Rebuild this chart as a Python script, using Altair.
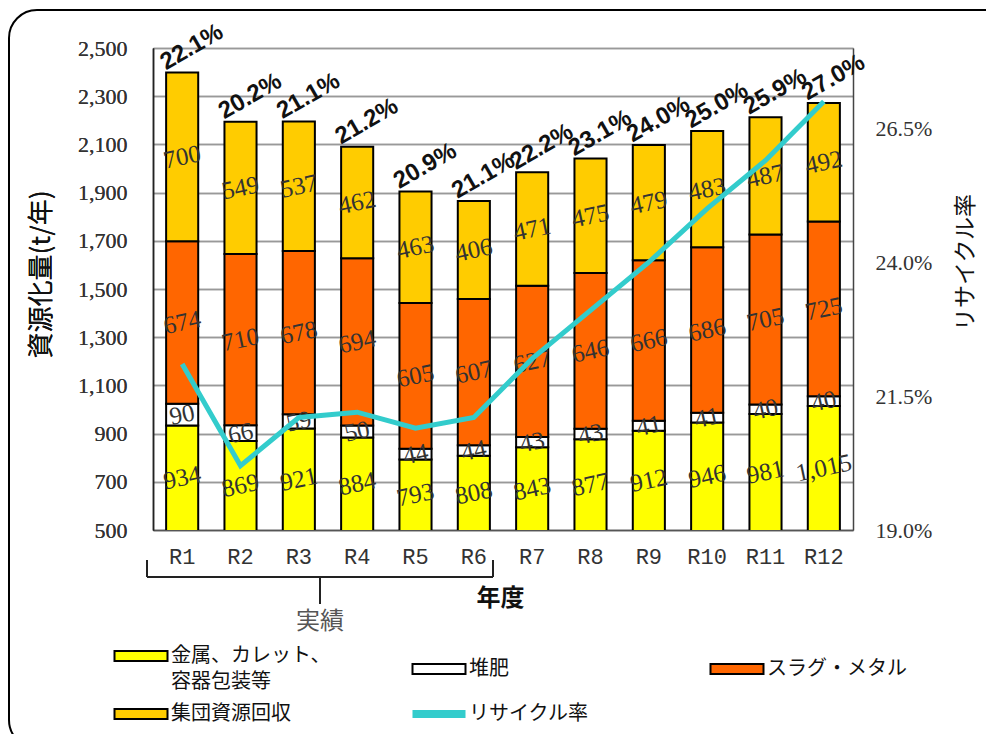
import altair as alt
import pandas as pd

years = ["R1", "R2", "R3", "R4", "R5", "R6", "R7", "R8", "R9", "R10", "R11", "R12"]
metal = [934, 869, 921, 884, 793, 808, 843, 877, 912, 946, 981, 1015]
compost = [90, 66, 59, 50, 44, 44, 43, 43, 41, 41, 40, 40]
slag = [674, 710, 678, 694, 605, 607, 627, 646, 666, 686, 705, 725]
group = [700, 549, 537, 462, 463, 406, 471, 475, 479, 483, 487, 492]
rate = [22.1, 20.2, 21.1, 21.2, 20.9, 21.1, 22.2, 23.1, 24.0, 25.0, 25.9, 27.0]

categories = ["金属、カレット、容器包装等", "堆肥", "スラグ・メタル", "集団資源回収"]
line_name = "リサイクル率"
colors = ["#FFFF00", "#FFFFFF", "#FF6600", "#FFCC00", "#33CCCC"]
left_ticks = [500, 700, 900, 1100, 1300, 1500, 1700, 1900, 2100, 2300, 2500]
right_ticks = [19.0, 21.5, 24.0, 26.5]
left_domain = [500, 2500]
right_domain = [19, 28]

series = [metal, compost, slag, group]
rows = []
for i, y in enumerate(years):
    for k, cat in enumerate(categories):
        rows.append({"year": y, "cat": cat, "order": k, "value": series[k][i]})
seg = pd.DataFrame(rows)
totals = [sum(s[i] for s in series) for i in range(len(years))]
yr = pd.DataFrame({"year": years, "rate": rate, "total": totals})
deco = pd.DataFrame({"a": [0]})

SERIF = "Liberation Serif"
JP = "Noto Sans CJK JP"

x_axis = alt.Axis(title="年度", labelAngle=0, labelFont="Liberation Mono", labelFontSize=22,
                  labelColor="#333", labelPadding=16, ticks=False, tickSize=0, domainColor="#555",
                  domainWidth=1.5, grid=False, titleFont=JP, titleFontSize=24, titleFontWeight="bold",
                  titleColor="#111", titleX=347, titleY=68, titleBaseline="middle", titleAlign="center")


def X():
    return alt.X("year:N", sort=years, axis=x_axis,
                 scale=alt.Scale(paddingInner=0.45, paddingOuter=0.225))


left_axis = alt.Axis(values=left_ticks, labelExpr="format(datum.value, ',')", grid=True,
                     gridColor="#999", gridWidth=1.5,
                     labelFont=SERIF, labelFontSize=22, labelColor="#333", labelPadding=26,
                     ticks=False, tickSize=0, domainColor="#222", domainWidth=1.5,
                     title="資源化量(t/年)", titleFont=JP, titleFontSize=26, titleFontWeight="normal",
                     titleColor="#111", titleAngle=270, titleX=-112, titleY=226,
                     titleAlign="center", titleBaseline="middle")
left_scale = alt.Scale(domain=left_domain, nice=False, zero=False)

right_axis = alt.Axis(orient="right", values=right_ticks, labelExpr="format(datum.value, '.1f') + '%'",
                      grid=False, labelFont=SERIF, labelFontSize=22, labelColor="#333", labelPadding=22,
                      ticks=False, tickSize=0, domainColor="#444", domainWidth=1.5,
                      title=line_name, titleFont=JP, titleFontSize=23, titleFontWeight="normal",
                      titleColor="#111", titleAngle=270, titleX=112, titleY=214,
                      titleAlign="center", titleBaseline="middle")

is_line = f"datum.label === '{line_name}'"
is_multi = f"datum.label === '{categories[0]}'"
rect_path = "M-1,-0.19H1V0.19H-1Z"

legend = alt.Legend(
    orient="none", legendX=-22, legendY=598, columns=3, direction="horizontal", title=None,
    gridAlign="all", columnPadding=65, rowPadding=6, symbolSize=2809,
    symbolType={"expr": f"{is_line} ? 'stroke' : '{rect_path}'"},
    symbolStrokeColor={"expr": f"{is_line} ? '{colors[4]}' : 'black'"},
    symbolStrokeWidth={"expr": f"{is_line} ? 8 : 2"},
    labelFont=JP, labelFontSize=20, labelColor="#111", labelOffset=20, labelLimit=400,
    labelExpr=f"{is_multi} ? ['金属、カレット、', '容器包装等'] : datum.label",
)
color_scale = alt.Scale(domain=categories + [line_name], range=colors)

stacked = alt.Chart(seg).transform_stack(
    stack="value", groupby=["year"], sort=[alt.SortField("order")], as_=["y0", "y1"]
)

frame = alt.Chart(deco).mark_rect(fill="transparent", stroke="black", strokeWidth=2,
                                  cornerRadius=28).encode(
    x=alt.value(-144), x2=alt.value(860), y=alt.value(-38), y2=alt.value(700))

bars = stacked.mark_bar(clip=True, stroke="black", strokeWidth=2).encode(
    x=X(), y=alt.Y("y0:Q", scale=left_scale, axis=left_axis), y2="y1:Q",
    color=alt.Color("cat:N", scale=color_scale, legend=legend))

seg_labels = stacked.transform_calculate(
    mid=f"(max(datum.y0, {left_domain[0]}) + datum.y1) / 2"
).mark_text(angle=348, font=SERIF, fontSize=25, color="#333").encode(
    x=X(), y=alt.Y("mid:Q", scale=left_scale, axis=left_axis),
    text=alt.Text("value:Q", format=","))

pct_labels = alt.Chart(yr).transform_calculate(
    lab="format(datum.rate, '.1f') + '%'"
).mark_text(angle=330, dx=21, dy=-17, font="Liberation Sans", fontSize=24, fontWeight="bold",
            color="#111").encode(
    x=X(), y=alt.Y("total:Q", scale=left_scale, axis=left_axis), text="lab:N")

br_h = alt.Chart(deco).mark_rule(color="#222", strokeWidth=2).encode(
    x=alt.value(-6), x2=alt.value(340), y=alt.value(529))
br_l = alt.Chart(deco).mark_rule(color="#222", strokeWidth=2).encode(
    x=alt.value(-6), y=alt.value(512), y2=alt.value(529))
br_r = alt.Chart(deco).mark_rule(color="#222", strokeWidth=2).encode(
    x=alt.value(340), y=alt.value(512), y2=alt.value(529))
br_c = alt.Chart(deco).mark_rule(color="#222", strokeWidth=2).encode(
    x=alt.value(167), y=alt.value(529), y2=alt.value(556))
jisseki = alt.Chart(deco).mark_text(text="実績", font=JP, fontSize=24, color="#555",
                                    baseline="middle", align="center").encode(
    x=alt.value(167), y=alt.value(574))

line = alt.Chart(yr).mark_line(strokeWidth=5, color=colors[4]).encode(
    x=X(), y=alt.Y("rate:Q", scale=alt.Scale(domain=right_domain, nice=False, zero=False),
                   axis=right_axis))

left = alt.layer(frame, bars, seg_labels, br_h, br_l, br_r, br_c, jisseki)
right = alt.layer(line)
top = alt.layer(pct_labels)

chart = alt.layer(left, right, top).resolve_scale(y="independent").properties(
    width=700, height=482,
    autosize=alt.AutoSizeParams(type="none"),
    padding={"left": 145, "top": 40, "right": 133, "bottom": 204},
).configure_view(stroke="#888", strokeWidth=1.5).configure(
    font=JP, style={"guide-label": {"lineHeight": 26}})

chart.save("out.html", embed_options={"renderer": "svg", "actions": False})
